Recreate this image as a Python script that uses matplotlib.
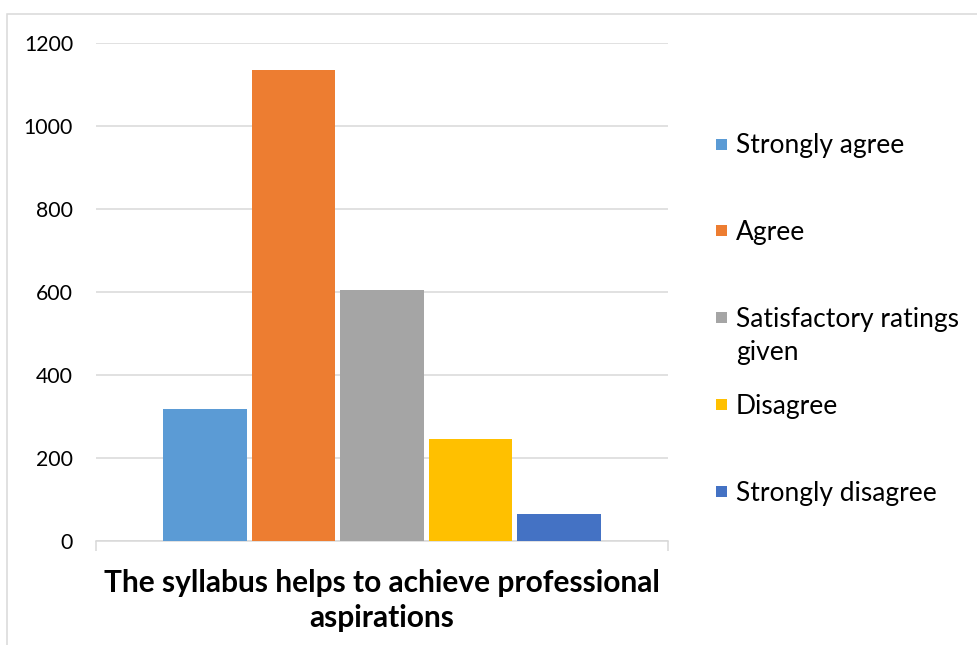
import numpy as np
import matplotlib
matplotlib.use("Agg")
import matplotlib.pyplot as plt
from matplotlib.patches import Rectangle

category = "The syllabus helps to achieve professional\naspirations"
labels = ["Strongly agree", "Agree", "Satisfactory ratings\ngiven",
          "Disagree", "Strongly disagree"]
values = [317, 1134, 605, 246, 66]
colors = ["#5B9BD5", "#ED7D31", "#A5A5A5", "#FFC000", "#4472C4"]
yticks = [0, 200, 400, 600, 800, 1000, 1200]

W, H = 978, 645
GRID = "#D9D9D9"
plt.rcParams['font.family'] = ['Lato', 'DejaVu Sans']


def px_x(x):
    return x / W


def px_y(y):
    # y measured from the top of the picture
    return 1 - y / H


fig = plt.figure(figsize=(W / 100, H / 100), dpi=100)

# outer chart border (only top and left show in the crop)
fig.patches.append(Rectangle((px_x(7), -0.1), 1.2, px_y(14) + 0.1,
                             transform=fig.transFigure, fill=False,
                             edgecolor=GRID, linewidth=1.1))

ax = fig.add_axes([px_x(96), px_y(541), (668 - 96) / W, (541 - 43) / H])

pitch = 0.1547
width = 0.1467
offsets = (np.arange(len(values)) - (len(values) - 1) / 2) * pitch
ax.bar(offsets, values, width=width, color=colors, zorder=3)

ax.set_xlim(-0.5, 0.5)
ax.set_ylim(0, 1200)
ax.set_yticks(yticks)
ax.yaxis.grid(True, color=GRID, linewidth=1.1, zorder=0)
ax.tick_params(axis='y', length=0, pad=16.5, labelsize=15.3)

ax.set_xticks([-0.5, 0.5])
ax.set_xticklabels(["", ""])
ax.tick_params(axis='x', which='major', length=7, width=1.1, color=GRID)
ax.set_xticks([0], minor=True)
ax.set_xticklabels([category], minor=True, fontsize=21.5, fontweight='bold',
                   linespacing=1.3)
ax.tick_params(axis='x', which='minor', length=0, pad=20)

for side in ["top", "right", "left"]:
    ax.spines[side].set_visible(False)
ax.spines["bottom"].set_color(GRID)
ax.spines["bottom"].set_linewidth(1.1)

# legend drawn by hand so the wrapped entry keeps its marker on the first line
legend_top = 144
legend_step = 86.75
line_gap = 33
for i, (lab, col) in enumerate(zip(labels, colors)):
    yc = legend_top + i * legend_step
    fig.patches.append(Rectangle((px_x(716), px_y(yc + 5.5)), 11 / W, 11 / H,
                                 transform=fig.transFigure, facecolor=col,
                                 edgecolor='none'))
    for j, line in enumerate(lab.split("\n")):
        fig.text(px_x(736), px_y(yc + 9.5 + j * line_gap), line,
                 fontsize=19, va='baseline', ha='left', color='black')

fig.savefig("out.png", dpi=100)
